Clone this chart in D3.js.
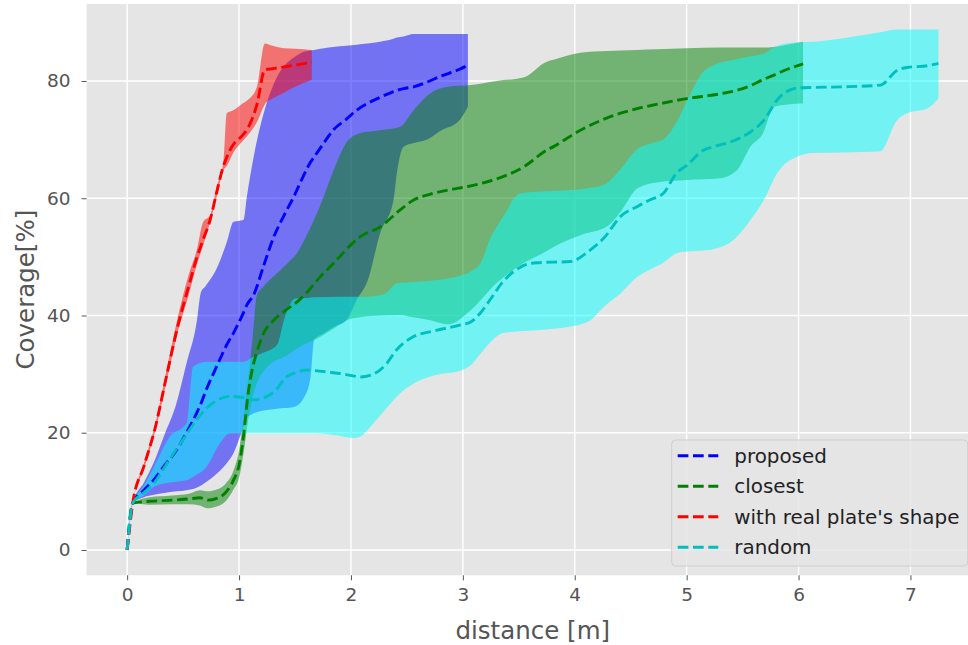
<!DOCTYPE html>
<html>
  <head>
    <meta charset="utf-8" />
    <title>Coverage</title>
    <style>
      body,
      html {
        margin: 0;
        padding: 0;
        background: #fff;
      }
      svg {
        display: block;
        font-family: 'DejaVu Sans', sans-serif;
      }
    </style>
  </head>
  <body>
    <script src="https://cdn.jsdelivr.net/npm/d3@7"></script>
    <script>
      const width = 968;
      const height = 645;

      // legend labels (same order as they were plotted)
      const methods = ['proposed', 'closest', "with real plate's shape", 'random'];
      const lineColors = ['#0000ff', '#008000', '#ff0000', '#00bfbf'];
      const fillColors = ['#0000ff', '#008000', '#ff0000', '#00ffff'];

      const xTicks = [0, 1, 2, 3, 4, 5, 6, 7];
      const yTicks = [0, 20, 40, 60, 80];

      // proposed
      const proposedX = [0, 0.05, 0.15, 0.24, 0.33, 0.44, 0.53, 0.62, 0.66, 0.7,
        0.8, 0.89, 0.95, 1.04, 1.07, 1.13, 1.22, 1.31, 1.4, 1.49,
        1.58, 1.64, 1.67, 1.76, 1.84, 1.96, 2.05, 2.15, 2.26, 2.38,
        2.41, 2.47, 2.56, 2.68, 2.8, 2.97, 3.045];
      const proposedMean = [0, 8, 10.2, 12, 14.3, 17, 20, 23.3, 25, 27,
        31.3, 35, 37, 40.5, 41.8, 43.5, 48.5, 53.4, 57, 60.3,
        64, 66.2, 67, 69.5, 71.6, 73.5, 75, 76.2, 77.2, 78.2,
        78.4, 78.7, 79, 79.8, 80.8, 82, 82.7];
      const proposedHigh = [0, 8, 11.5, 15, 19.5, 25, 31.8, 38.7, 44, 45,
        48, 52.5, 56, 56.3, 60.3, 67, 74.5, 79.5, 82.5, 84,
        85, 85.2, 85.3, 85.6, 85.8, 86, 86.2, 86.4, 86.7, 87.2,
        87.4, 87.6, 88, 88, 88, 88, 88];
      const proposedLow = [0, 8, 9, 9.4, 9.7, 10, 10.2, 10.6, 11, 11.5,
        13, 14.8, 16.5, 21, 22.5, 23.3, 23.8, 24, 24.2, 24.4,
        26, 29.6, 35.8, 37, 38, 39.2, 42.6, 46, 54, 59.7,
        64.3, 68.8, 69.4, 70, 71.5, 73.3, 75.6];

      // closest
      const closestX = [0, 0.05, 0.2, 0.4, 0.55, 0.65, 0.72, 0.8, 0.88, 0.95,
        1.0, 1.04, 1.08, 1.12, 1.16, 1.22, 1.3, 1.41, 1.53, 1.6,
        1.72, 1.85, 1.96, 2.08, 2.26, 2.44, 2.56, 2.71, 2.87, 3.07,
        3.3, 3.54, 3.75, 3.81, 4.05, 4.29, 4.41, 4.56, 4.73, 5.0,
        5.3, 5.45, 5.57, 5.68, 5.78, 5.9, 6.04];
      const closestMean = [0, 8, 8.3, 8.5, 8.7, 8.9, 8.5, 8.8, 9.8, 11.9,
        14.5, 19.5, 26.5, 31, 33.8, 37, 39, 40.8, 42.5, 43.8,
        46.5, 49, 51.3, 53.4, 55.1, 58, 59.7, 60.7, 61.4, 62.1,
        63.3, 65.3, 68.2, 68.8, 71.6, 73.7, 74.5, 75.3, 76, 77,
        77.8, 78.4, 79.2, 80.2, 81, 82, 82.9];
      const closestHigh = [0, 8, 9, 9.3, 9.6, 10.2, 10, 10.3, 11.3, 13.5,
        17, 22.5, 29, 36, 43.5, 45, 46.5, 48.5, 51, 53.5,
        58.5, 65, 69.5, 71.1, 71.6, 72.2, 75, 77.9, 79, 79.3,
        80, 80.6, 83.3, 83.6, 84.8, 85.1, 85.2, 85.3, 85.4, 85.6,
        85.7, 85.7, 85.7, 85.7, 85.8, 86.2, 86.7];
      const closestLow = [0, 8, 7.7, 7.8, 7.8, 7.6, 7.1, 7.4, 8.3, 10.3,
        12.3, 16.5, 22, 26, 28.5, 30.5, 32, 33, 34.5, 35.2,
        36.3, 37.8, 39.2, 39.7, 40, 40.1, 39.7, 39.2, 38.5, 40.9,
        45.5, 48.9, 51, 51.7, 53.7, 55.2, 57.7, 61.7, 62.7, 63.1,
        63.4, 64.8, 68.8, 71, 75.6, 76, 76.2];

      // with real plate's shape
      const realX = [0, 0.05, 0.15, 0.25, 0.35, 0.45, 0.55, 0.62, 0.68, 0.74,
        0.8, 0.86, 0.89, 0.95, 1.02, 1.08, 1.16, 1.23, 1.3, 1.4,
        1.5, 1.65];
      const realMean = [0, 8, 14.3, 20.8, 29.5, 38, 45, 49.7, 53, 56.2,
        61, 65.5, 67, 69.2, 70.5, 72, 76, 81.9, 82.1, 82.4,
        82.7, 83.2];
      const realHigh = [0, 8, 14.8, 21.4, 30.5, 39.5, 47, 51, 56, 57,
        62, 66.2, 74.5, 75, 76, 76.8, 79, 86.4, 86, 85.6,
        85.5, 85.3];
      const realLow = [0, 8, 13.8, 20.2, 28.5, 37, 43.5, 48.5, 52, 55.8,
        60.2, 64.8, 65.5, 67.8, 69.5, 70.8, 73, 76, 77, 78,
        79, 80.2];

      // random
      const randomX = [0, 0.05, 0.15, 0.24, 0.38, 0.53, 0.59, 0.71, 0.83, 0.92,
        1.04, 1.13, 1.2, 1.34, 1.41, 1.5, 1.61, 1.67, 1.9, 2.02,
        2.08, 2.2, 2.31, 2.41, 2.56, 2.75, 2.98, 3.07, 3.16, 3.24,
        3.36, 3.51, 3.66, 3.96, 4.14, 4.26, 4.41, 4.56, 4.67, 4.79,
        4.91, 5.0, 5.15, 5.24, 5.42, 5.57, 5.69, 5.81, 5.99, 6.13,
        6.4, 6.73, 6.88, 6.97, 7.15, 7.25];
      const randomMean = [0, 8, 9.8, 11.4, 15.5, 19.7, 21.4, 24.2, 25.8, 26.2,
        26, 25.6, 25.8, 27.5, 29.3, 30.2, 30.7, 30.6, 30.1, 29.7,
        29.5, 30, 31.6, 34.2, 36.4, 37.4, 38.4, 38.9, 40.5, 42.6,
        45.8, 48.2, 49, 49.2, 51.2, 53.2, 56.9, 58.6, 59.7, 60.8,
        64.3, 65.6, 68.2, 68.8, 69.8, 71.3, 73.3, 76.8, 78.8, 78.9,
        79, 79.3, 81.8, 82.3, 82.6, 83];
      const randomHigh = [0, 8, 11, 14.2, 19.3, 21.6, 31.3, 32.1, 32.1, 32.1,
        32.1, 33, 33.5, 35, 39.8, 42.9, 43, 43.1, 43.2, 43.2,
        43.2, 43.3, 43.8, 45.5, 45.7, 46, 46.8, 47.5, 49, 52.9,
        56.9, 60.8, 61.1, 61.4, 61.8, 62.3, 65, 68.4, 69.3, 70,
        73, 76.5, 81.6, 82.7, 83.6, 84.2, 84.7, 86, 86.6, 86.7,
        87.3, 88.3, 88.8, 88.8, 88.8, 88.8];
      const randomLow = [0, 8, 9.3, 10.8, 11.5, 11.9, 12.5, 14.2, 18.2, 19.9,
        19.9, 19.9, 19.9, 19.9, 19.9, 19.9, 19.9, 19.9, 19.5, 19.1,
        19.3, 21.6, 24, 26.2, 28.4, 29.8, 30.6, 31.5, 33.5, 35.3,
        37, 37.3, 37.5, 38.1, 39.2, 41.5, 43.8, 46.6, 47.8, 49,
        50.6, 50.9, 51.1, 51.3, 52.9, 56.3, 59.7, 64.3, 67.1, 67.7,
        67.8, 68, 73.3, 74.5, 75.3, 77];

      const series = [
        { x: proposedX, mean: proposedMean, lo: proposedLow, hi: proposedHigh },
        { x: closestX, mean: closestMean, lo: closestLow, hi: closestHigh },
        { x: realX, mean: realMean, lo: realLow, hi: realHigh },
        { x: randomX, mean: randomMean, lo: randomLow, hi: randomHigh },
      ].map((s, i) => ({
        name: methods[i],
        line: lineColors[i],
        fill: fillColors[i],
        pts: s.x.map((x, j) => ({ x: x, m: s.mean[j], lo: s.lo[j], hi: s.hi[j] })),
      }));

      const plot = { left: 86.6, top: 4, right: 979, bottom: 575.3 };

      const x = d3.scaleLinear().domain([-0.3625, 7.6125]).range([plot.left, plot.right]);
      const y = d3.scaleLinear().domain([-4.32, 93.13]).range([plot.bottom, plot.top]);

      const svg = d3
        .select('body')
        .append('svg')
        .attr('width', width)
        .attr('height', height);

      svg.append('defs')
        .append('clipPath')
        .attr('id', 'clip')
        .append('rect')
        .attr('x', plot.left)
        .attr('y', plot.top)
        .attr('width', plot.right - plot.left)
        .attr('height', plot.bottom - plot.top);

      // panel background
      svg.append('rect')
        .attr('x', plot.left)
        .attr('y', plot.top)
        .attr('width', plot.right - plot.left)
        .attr('height', plot.bottom - plot.top)
        .attr('fill', '#e5e5e5');

      // grid
      const grid = svg.append('g').attr('stroke', '#fff').attr('stroke-width', 1.4);
      grid.selectAll('.gx')
        .data(xTicks)
        .enter()
        .append('line')
        .attr('x1', (d) => x(d))
        .attr('x2', (d) => x(d))
        .attr('y1', plot.top)
        .attr('y2', plot.bottom);
      grid.selectAll('.gy')
        .data(yTicks)
        .enter()
        .append('line')
        .attr('x1', plot.left)
        .attr('x2', plot.right)
        .attr('y1', (d) => y(d))
        .attr('y2', (d) => y(d));

      // axes (ticks outside, no spine)
      const xAxis = svg.append('g')
        .attr('transform', `translate(0,${plot.bottom})`)
        .call(d3.axisBottom(x).tickValues(xTicks).tickSize(5).tickPadding(8));
      const yAxis = svg.append('g')
        .attr('transform', `translate(${plot.left},0)`)
        .call(d3.axisLeft(y).tickValues(yTicks).tickSize(5).tickPadding(11));
      [xAxis, yAxis].forEach((a) => {
        a.select('.domain').remove();
        a.selectAll('line').attr('stroke', '#555').attr('stroke-width', 1);
        a.selectAll('text')
          .attr('fill', '#555')
          .attr('font-family', 'DejaVu Sans')
          .attr('font-size', 18.5);
      });

      svg.append('text')
        .attr('x', (plot.left + plot.right) / 2)
        .attr('y', 639)
        .attr('text-anchor', 'middle')
        .attr('fill', '#555')
        .attr('font-size', 24.5)
        .text('distance [m]');

      svg.append('text')
        .attr('transform', `translate(33.5,${(plot.top + plot.bottom) / 2}) rotate(-90)`)
        .attr('text-anchor', 'middle')
        .attr('fill', '#555')
        .attr('font-size', 24.5)
        .text('Coverage[%]');

      // bands then dashed means
      const g = svg.append('g').attr('clip-path', 'url(#clip)');

      const area = d3.area()
        .x((d) => x(d.x))
        .y0((d) => y(d.lo))
        .y1((d) => y(d.hi))
        .curve(d3.curveMonotoneX);
      const line = d3.line()
        .x((d) => x(d.x))
        .y((d) => y(d.m))
        .curve(d3.curveMonotoneX);

      g.selectAll('.band')
        .data(series)
        .enter()
        .append('path')
        .attr('d', (d) => area(d.pts))
        .attr('fill', (d) => d.fill)
        .attr('fill-opacity', 0.5);

      g.selectAll('.mean')
        .data(series)
        .enter()
        .append('path')
        .attr('d', (d) => line(d.pts))
        .attr('fill', 'none')
        .attr('stroke', (d) => d.line)
        .attr('stroke-width', 2.9)
        .attr('stroke-dasharray', '10.7,4.6');

      // legend
      const legend = svg.append('g').attr('transform', 'translate(671.7,440)');
      legend.append('rect')
        .attr('width', 296)
        .attr('height', 126)
        .attr('rx', 4)
        .attr('fill', '#e5e5e5')
        .attr('fill-opacity', 0.8)
        .attr('stroke', '#cfcfcf')
        .attr('stroke-width', 1);
      const item = legend.selectAll('.item')
        .data(series)
        .enter()
        .append('g')
        .attr('transform', (d, i) => `translate(0,${15.7 + i * 30.5})`);
      item.append('line')
        .attr('x1', 6)
        .attr('x2', 46.6)
        .attr('stroke', (d) => d.line)
        .attr('stroke-width', 2.9)
        .attr('stroke-dasharray', '10.7,4.6');
      item.append('text')
        .attr('x', 62.6)
        .attr('dy', '0.35em')
        .attr('fill', '#222')
        .attr('font-size', 19.9)
        .text((d) => d.name);
    </script>
  </body>
</html>
